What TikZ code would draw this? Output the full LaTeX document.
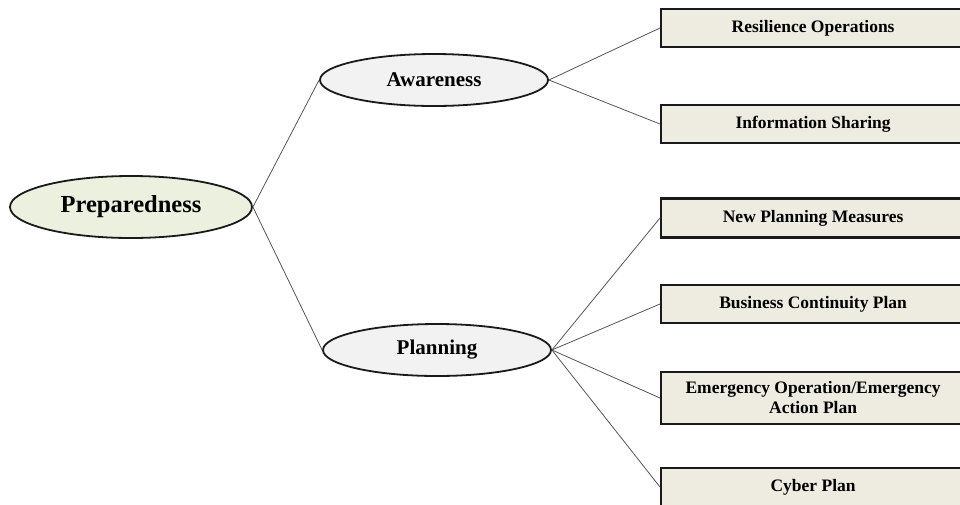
\documentclass[tikz,border=0pt]{standalone}
\usepackage{fontspec}
\setmainfont{Liberation Serif}
\usetikzlibrary{shapes.geometric}
\definecolor{rootfill}{HTML}{EBF1DE}
\definecolor{midfill}{HTML}{F2F2F2}
\definecolor{leaffill}{HTML}{EEECE1}
\definecolor{edgeline}{HTML}{1A1A1A}
\definecolor{linkgray}{HTML}{555555}
\begin{document}
\begin{tikzpicture}[x=1pt,y=-1pt,
  oval/.style={ellipse, draw=edgeline, line width=1.8pt, inner sep=0pt, font=\bfseries},
  rootnode/.style={oval, fill=rootfill, minimum width=242pt, minimum height=62pt, font=\bfseries\fontsize{24.5}{28}\selectfont},
  midnode/.style={oval, fill=midfill, minimum width=228pt, minimum height=52pt, font=\bfseries\fontsize{21}{24}\selectfont},
  leafnode/.style={rectangle, draw=edgeline, line width=2.2pt, fill=leaffill, anchor=west,
    minimum width=304pt, inner sep=0pt, align=center, font=\bfseries\fontsize{17.5}{20}\selectfont},
  link/.style={draw=linkgray, line width=0.8pt}]
\useasboundingbox (0,0) rectangle (960,504);
\clip (0,0) rectangle (960,504);

% central concept and its two branches
\node[rootnode] (prep) at (131,207) {Preparedness};
\node[midnode] (aware) at (434,80) {Awareness};
\node[midnode] (plan) at (437,350) {Planning};

% leaf boxes (they run past the right margin)
\node[leafnode, minimum height=38pt] (res) at (660,28) {Resilience Operations};
\node[leafnode, minimum height=38pt] (info) at (660,124) {Information Sharing};
\node[leafnode, minimum height=39pt] (newp) at (660,218) {New Planning Measures};
\node[leafnode, minimum height=38pt] (bcp) at (660,304) {Business Continuity Plan};
\node[leafnode, minimum height=52pt] (emer) at (660,398) {Emergency Operation/Emergency\\Action Plan};
\node[leafnode, minimum height=38pt] (cyber) at (660,487) {Cyber Plan};

% connectors
\draw[link] (prep.east) -- (aware.west);
\draw[link] (prep.east) -- (plan.west);
\draw[link] (aware.east) -- (res.west);
\draw[link] (aware.east) -- (info.west);
\draw[link] (plan.east) -- (newp.west);
\draw[link] (plan.east) -- (bcp.west);
\draw[link] (plan.east) -- (emer.west);
\draw[link] (plan.east) -- (cyber.west);
\end{tikzpicture}
\end{document}
